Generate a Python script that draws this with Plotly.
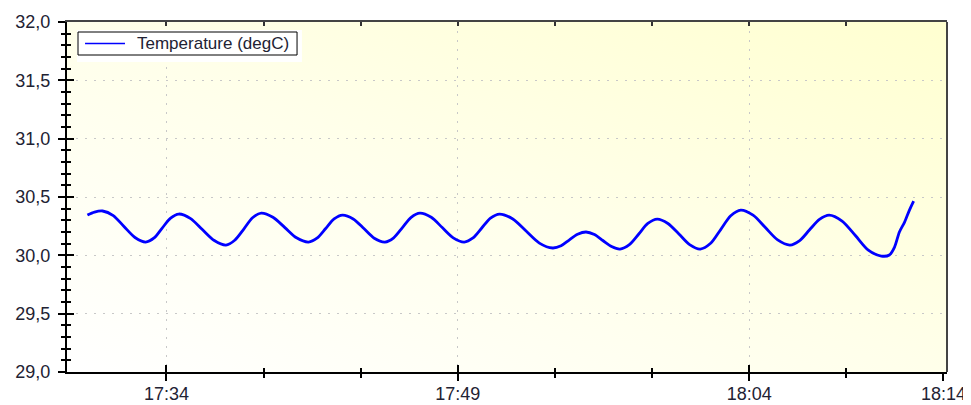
import base64
import plotly.graph_objects as go

# ---- data ----
times = [
    "17:29:56", "17:30:18", "17:30:43", "17:31:16", "17:31:49", "17:32:23",
    "17:32:56", "17:33:22", "17:33:47", "17:34:13", "17:34:38", "17:35:15",
    "17:35:51", "17:36:28", "17:37:04", "17:37:31", "17:37:59", "17:38:26",
    "17:38:53", "17:39:29", "17:40:06", "17:40:42", "17:41:19", "17:41:45",
    "17:42:12", "17:42:38", "17:43:04", "17:43:37", "17:44:10", "17:44:42",
    "17:45:15", "17:45:42", "17:46:09", "17:46:36", "17:47:03", "17:47:38",
    "17:48:12", "17:48:46", "17:49:20", "17:49:47", "17:50:14", "17:50:41",
    "17:51:09", "17:51:50", "17:52:31", "17:53:12", "17:53:53", "17:54:19",
    "17:54:44", "17:55:10", "17:55:36", "17:56:02", "17:56:28", "17:56:55",
    "17:57:21", "17:57:50", "17:58:19", "17:58:47", "17:59:16", "17:59:49",
    "18:00:23", "18:00:56", "18:01:29", "18:02:01", "18:02:32", "18:03:03",
    "18:03:34", "18:04:12", "18:04:50", "18:05:28", "18:06:06", "18:06:36",
    "18:07:06", "18:07:37", "18:08:07", "18:08:47", "18:09:28", "18:10:08",
    "18:10:48", "18:11:13", "18:11:29", "18:11:44", "18:12:00", "18:12:15",
    "18:12:28",
]
temperature = [
    30.345, 30.371, 30.380, 30.341, 30.247, 30.153,
    30.114, 30.149, 30.234, 30.319, 30.354, 30.315,
    30.221, 30.127, 30.088, 30.129, 30.225, 30.322,
    30.362, 30.326, 30.238, 30.150, 30.114, 30.147,
    30.230, 30.312, 30.345, 30.312, 30.230, 30.147,
    30.114, 30.150, 30.238, 30.326, 30.362, 30.326,
    30.238, 30.150, 30.114, 30.149, 30.234, 30.319,
    30.354, 30.311, 30.208, 30.105, 30.063, 30.082,
    30.131, 30.180, 30.200, 30.178, 30.127, 30.075,
    30.054, 30.092, 30.183, 30.273, 30.311, 30.273,
    30.183, 30.092, 30.054, 30.103, 30.221, 30.339,
    30.388, 30.344, 30.238, 30.132, 30.088, 30.126,
    30.217, 30.308, 30.345, 30.294, 30.170, 30.045,
    29.994, 30.003, 30.071, 30.200, 30.285, 30.388,
    30.465,
]
series_name = "Temperature (degC)"

day = "2020-01-01 "
x_vals = [day + t for t in times]
x_range = [day + "17:28:53", day + "18:14:11"]
major_ticks = [day + "17:34:00", day + "17:49:00", day + "18:04:00", day + "18:14:00"]
major_text = ["17:34", "17:49", "18:04", "18:14"]
minor_ticks = [day + t for t in ["17:39:00", "17:44:00", "17:54:00", "17:59:00", "18:09:00"]]
y_range = [29.0, 32.0]

FONT = "Liberation Sans, Arial, sans-serif"
TXT = "#222233"

svg = (
    '<svg xmlns="http://www.w3.org/2000/svg" width="100" height="100" '
    'preserveAspectRatio="none" viewBox="0 0 100 100">'
    '<defs><linearGradient id="g" x1="0" y1="1" x2="1" y2="0">'
    '<stop offset="0" stop-color="#ffffff"/>'
    '<stop offset="0.5" stop-color="#ffffea"/>'
    '<stop offset="1" stop-color="#ffffd0"/>'
    '</linearGradient></defs>'
    '<rect x="0" y="0" width="100" height="100" fill="url(#g)"/></svg>'
)
svg_uri = "data:image/svg+xml;base64," + base64.b64encode(svg.encode()).decode()

fig = go.Figure()
fig.add_trace(go.Scatter(
    x=x_vals, y=temperature, mode="lines", name=series_name,
    line=dict(color="#0000ff", width=2.8, shape="spline", smoothing=0.8),
    hoverinfo="skip", showlegend=False,
))
# invisible copies so the tick-only overlay axes are drawn
fig.add_trace(go.Scatter(x=x_vals, y=temperature, xaxis="x2", yaxis="y2", mode="lines",
                         line=dict(color="rgba(0,0,0,0)", width=0), showlegend=False, hoverinfo="skip"))
fig.add_trace(go.Scatter(x=x_vals, y=temperature, xaxis="x3", yaxis="y2", mode="lines",
                         line=dict(color="rgba(0,0,0,0)", width=0), showlegend=False, hoverinfo="skip"))

common_x = dict(type="date", range=x_range, zeroline=False, automargin=False)
fig.update_layout(
    width=971, height=405,
    # the page body adds an 8px offset, so margins are shifted to put the
    # plot area at x 67..947, y 22..372 of the window
    margin=dict(l=59, r=32, t=14, b=41, autoexpand=False),
    paper_bgcolor="white",
    plot_bgcolor="rgba(0,0,0,0)",
    separators=", ",
    font=dict(family=FONT, color=TXT, size=18),
    images=[dict(source=svg_uri, xref="paper", yref="paper", x=0, y=1,
                 sizex=1, sizey=1, sizing="stretch", layer="below")],
    xaxis=dict(
        **common_x,
        tickmode="array", tickvals=major_ticks, ticktext=major_text,
        ticks="outside", ticklen=7, tickwidth=2, tickcolor="black",
        minor=dict(tickvals=minor_ticks, ticks="outside", ticklen=4, tickwidth=2,
                   tickcolor="black", showgrid=False),
        showgrid=False, ticklabelstandoff=-3,
        showline=True, linecolor="black", linewidth=2,
        tickfont=dict(size=18, color=TXT),
    ),
    xaxis2=dict(
        **common_x, overlaying="x", side="bottom", anchor="y",
        tickmode="array", tickvals=major_ticks[:3], ticktext=["", "", ""],
        ticks="inside", ticklen=7, tickwidth=2, tickcolor="black",
        minor=dict(tickvals=minor_ticks, ticks="inside", ticklen=4, tickwidth=2,
                   tickcolor="black", showgrid=False),
        showgrid=True, gridcolor="#c8c8c8", griddash="2px,7px", gridwidth=1,
        showline=False, showticklabels=False,
    ),
    xaxis3=dict(
        **common_x, overlaying="x", side="top", anchor="y",
        tickmode="array", tickvals=major_ticks[:3], ticks="inside", ticklen=4,
        tickwidth=2, tickcolor="#333333",
        minor=dict(tickvals=minor_ticks, ticks="inside", ticklen=4, tickwidth=2,
                   tickcolor="#333333"),
        showgrid=False, showline=True, linecolor="#444444", linewidth=2,
        showticklabels=False,
    ),
    yaxis=dict(
        range=y_range, tickmode="linear", tick0=29.0, dtick=0.5, tickformat=".1f",
        ticks="outside", ticklen=7, tickwidth=2, tickcolor="black",
        minor=dict(dtick=0.1, tick0=29.0, ticks="outside", ticklen=4, tickwidth=2,
                   tickcolor="black", showgrid=False),
        showgrid=True, gridcolor="#c8c8c8", griddash="2px,7px", gridwidth=1,
        zeroline=False, automargin=False, ticklabelstandoff=4,
        showline=True, linecolor="black", linewidth=2,
        tickfont=dict(size=18, color=TXT),
    ),
    yaxis2=dict(
        range=y_range, overlaying="y", side="left", anchor="x",
        tickmode="linear", tick0=29.0, dtick=0.5,
        ticks="inside", ticklen=7, tickwidth=2, tickcolor="black",
        minor=dict(dtick=0.1, tick0=29.0, ticks="inside", ticklen=4, tickwidth=2,
                   tickcolor="black", showgrid=False),
        showgrid=False, zeroline=False, showticklabels=False, showline=False,
        automargin=False,
    ),
    shapes=[
        # right frame line
        dict(type="line", xref="paper", yref="paper", x0=1, x1=1, y0=0, y1=1,
             line=dict(color="#444444", width=2)),
        # legend: white halo, bordered box, line sample
        dict(type="rect", xref="paper", yref="paper", x0=0.0114, x1=0.267, y0=0.886, y1=0.977,
             fillcolor="white", line=dict(width=0), layer="above"),
        dict(type="rect", xref="paper", yref="paper", x0=0.0125, x1=0.2614, y0=0.9057, y1=0.9714,
             fillcolor="white", line=dict(color="black", width=1), layer="above"),
        dict(type="line", xref="paper", yref="paper", x0=0.0205, x1=0.0659, y0=0.9386, y1=0.9386,
             line=dict(color="#0000ff", width=1.5), layer="above"),
    ],
    annotations=[
        dict(text=series_name, xref="paper", yref="paper", x=0.0773, y=0.9386,
             xanchor="left", yanchor="middle", showarrow=False,
             font=dict(family=FONT, size=17, color=TXT)),
    ],
    showlegend=False,
)

fig.write_html("out.html")
